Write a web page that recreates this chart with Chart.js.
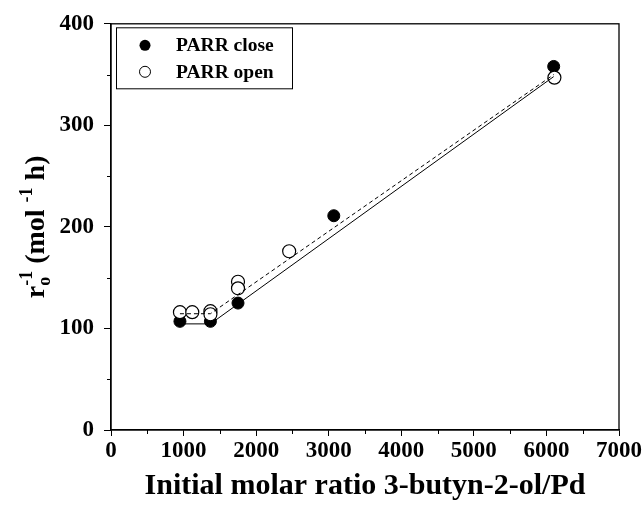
<!DOCTYPE html>
<html>
<head>
<meta charset="utf-8">
<script src="https://cdn.jsdelivr.net/npm/chart.js@4.4.1/dist/chart.umd.min.js"></script>
<style>
  html, body { margin: 0; padding: 0; background: #fff; }
</style>
</head>
<body>
<canvas id="chart" width="643" height="519"></canvas>
<script>
// PARR close (filled circles)
const closeX = [950, 1370, 1750, 3070, 6100];
const closeY = [107, 107, 125, 211, 358];

// PARR open (hollow circles)
const openX = [950, 1120, 1370, 1370, 1750, 1750, 2455, 6110];
const openY = [116, 116, 117, 114, 146, 139.5, 176, 347];

// fitted lines (solid = close, dashed = open)
const closeFitX = [950, 1370, 6100];
const closeFitY = [104.5, 104.5, 348];
const openFitX = [950, 1370, 6100];
const openFitY = [114.5, 114.5, 350];

// axes
const xRange = [0, 7000];
const yRange = [0, 400];
const xMinorTicks = [500, 1500, 2500, 3500, 4500, 5500, 6500];
const yMinorTicks = [50, 150, 250, 350];

const legendLabels = ['PARR close', 'PARR open'];
const xTitle = 'Initial molar ratio 3-butyn-2-ol/Pd';

const SERIF = "'Liberation Serif', 'Times New Roman', serif";

const toPoints = (xs, ys) => xs.map((x, i) => ({ x: x, y: ys[i] }));

// minor ticks + closed frame around the plot area
const framePlugin = {
  id: 'frame',
  afterDraw(chart) {
    const { ctx, chartArea: a, scales } = chart;
    ctx.save();
    ctx.strokeStyle = '#000';
    ctx.lineWidth = 1.3;
    ctx.strokeRect(a.left, a.top, a.right - a.left, a.bottom - a.top);
    ctx.lineWidth = 1;
    ctx.beginPath();
    xMinorTicks.forEach(v => {
      const px = Math.round(scales.x.getPixelForValue(v)) + 0.5;
      ctx.moveTo(px, a.bottom);
      ctx.lineTo(px, a.bottom + 4);
    });
    yMinorTicks.forEach(v => {
      const py = Math.round(scales.y.getPixelForValue(v)) + 0.5;
      ctx.moveTo(a.left - 4, py);
      ctx.lineTo(a.left, py);
    });
    ctx.stroke();
    ctx.restore();
  }
};

// boxed legend in the upper-left corner of the plot
const legendPlugin = {
  id: 'boxLegend',
  afterDatasetsDraw(chart) {
    const { ctx, chartArea: a } = chart;
    const bx = a.left + 5, by = a.top + 3.5;
    ctx.save();
    ctx.strokeStyle = '#000';
    ctx.lineWidth = 1;
    ctx.strokeRect(bx + 0.5, by + 0.5, 176, 61);
    ctx.font = 'bold 19.5px ' + SERIF;
    ctx.textBaseline = 'middle';
    ctx.fillStyle = '#000';
    legendLabels.forEach((label, i) => {
      const cy = by + 18 + i * 26.5;
      ctx.beginPath();
      ctx.arc(bx + 29, cy, 5.5, 0, Math.PI * 2);
      if (i === 0) {
        ctx.fill();
      } else {
        ctx.fillStyle = '#fff';
        ctx.fill();
        ctx.stroke();
        ctx.fillStyle = '#000';
      }
      ctx.fillText(label, bx + 60, cy + 1);
    });
    ctx.restore();
  }
};

// y title with sub/superscripts, drawn rotated
const yTitlePlugin = {
  id: 'yTitle',
  afterDraw(chart) {
    const { ctx, chartArea: a } = chart;
    const big = 'bold 28px ' + SERIF;
    const small = 'bold 18px ' + SERIF;
    const parts = [
      { t: 'r', f: big, dy: 0 },
      { t: 'o', f: small, dy: 6, stack: '-1', sdy: -12 },
      { t: ' (mol ', f: big, dy: 0 },
      { t: '-1', f: small, dy: -12 },
      { t: ' h)', f: big, dy: 0 }
    ];
    ctx.save();
    let total = 0;
    parts.forEach(p => {
      ctx.font = p.f;
      let w = ctx.measureText(p.t).width;
      if (p.stack) w = Math.max(w, ctx.measureText(p.stack).width);
      p.w = w;
      total += w;
    });
    const cx = 44, cy = (a.top + a.bottom) / 2;
    ctx.translate(cx, cy);
    ctx.rotate(-Math.PI / 2);
    ctx.fillStyle = '#000';
    ctx.textBaseline = 'alphabetic';
    let x = -total / 2;
    parts.forEach(p => {
      ctx.font = p.f;
      ctx.fillText(p.t, x, p.dy);
      if (p.stack) ctx.fillText(p.stack, x, p.sdy);
      x += p.w;
    });
    ctx.restore();
  }
};

new Chart(document.getElementById('chart'), {
  type: 'scatter',
  data: {
    datasets: [
      {
        type: 'line',
        data: toPoints(closeFitX, closeFitY),
        borderColor: '#000',
        borderWidth: 1,
        pointRadius: 0,
        fill: false
      },
      {
        type: 'line',
        data: toPoints(openFitX, openFitY),
        borderColor: '#000',
        borderWidth: 1,
        borderDash: [4, 3],
        pointRadius: 0,
        fill: false
      },
      {
        label: legendLabels[1],
        data: toPoints(openX, openY),
        backgroundColor: '#fff',
        borderColor: '#000',
        borderWidth: 1.2,
        pointRadius: 6.5
      },
      {
        label: legendLabels[0],
        data: toPoints(closeX, closeY),
        backgroundColor: '#000',
        borderColor: '#000',
        borderWidth: 1,
        pointRadius: 6
      }
    ]
  },
  options: {
    responsive: false,
    animation: false,
    layout: { padding: { top: 19, right: 21.5, left: 0, bottom: 0 } },
    plugins: {
      legend: { display: false },
      tooltip: { enabled: false }
    },
    scales: {
      x: {
        type: 'linear',
        min: xRange[0],
        max: xRange[1],
        afterFit(scale) { scale.height = 89; },
        ticks: {
          stepSize: 1000,
          color: '#000',
          padding: 1,
          maxRotation: 0,
          callback: v => String(v),
          font: { family: SERIF, size: 23, weight: 'bold' }
        },
        grid: { drawOnChartArea: false, tickLength: 6, color: '#000' },
        border: { color: '#000', width: 1.3 },
        title: {
          display: true,
          text: xTitle,
          color: '#000',
          font: { family: SERIF, size: 30, weight: 'bold' },
          padding: { top: 0, bottom: 15 }
        }
      },
      y: {
        type: 'linear',
        min: yRange[0],
        max: yRange[1],
        afterFit(scale) { scale.width = 111; },
        ticks: {
          stepSize: 100,
          color: '#000',
          padding: 10,
          callback: v => String(v),
          font: { family: SERIF, size: 23, weight: 'bold' }
        },
        grid: { drawOnChartArea: false, tickLength: 7, color: '#000' },
        border: { color: '#000', width: 1.3 }
      }
    }
  },
  plugins: [framePlugin, legendPlugin, yTitlePlugin]
});
</script>
</body>
</html>
